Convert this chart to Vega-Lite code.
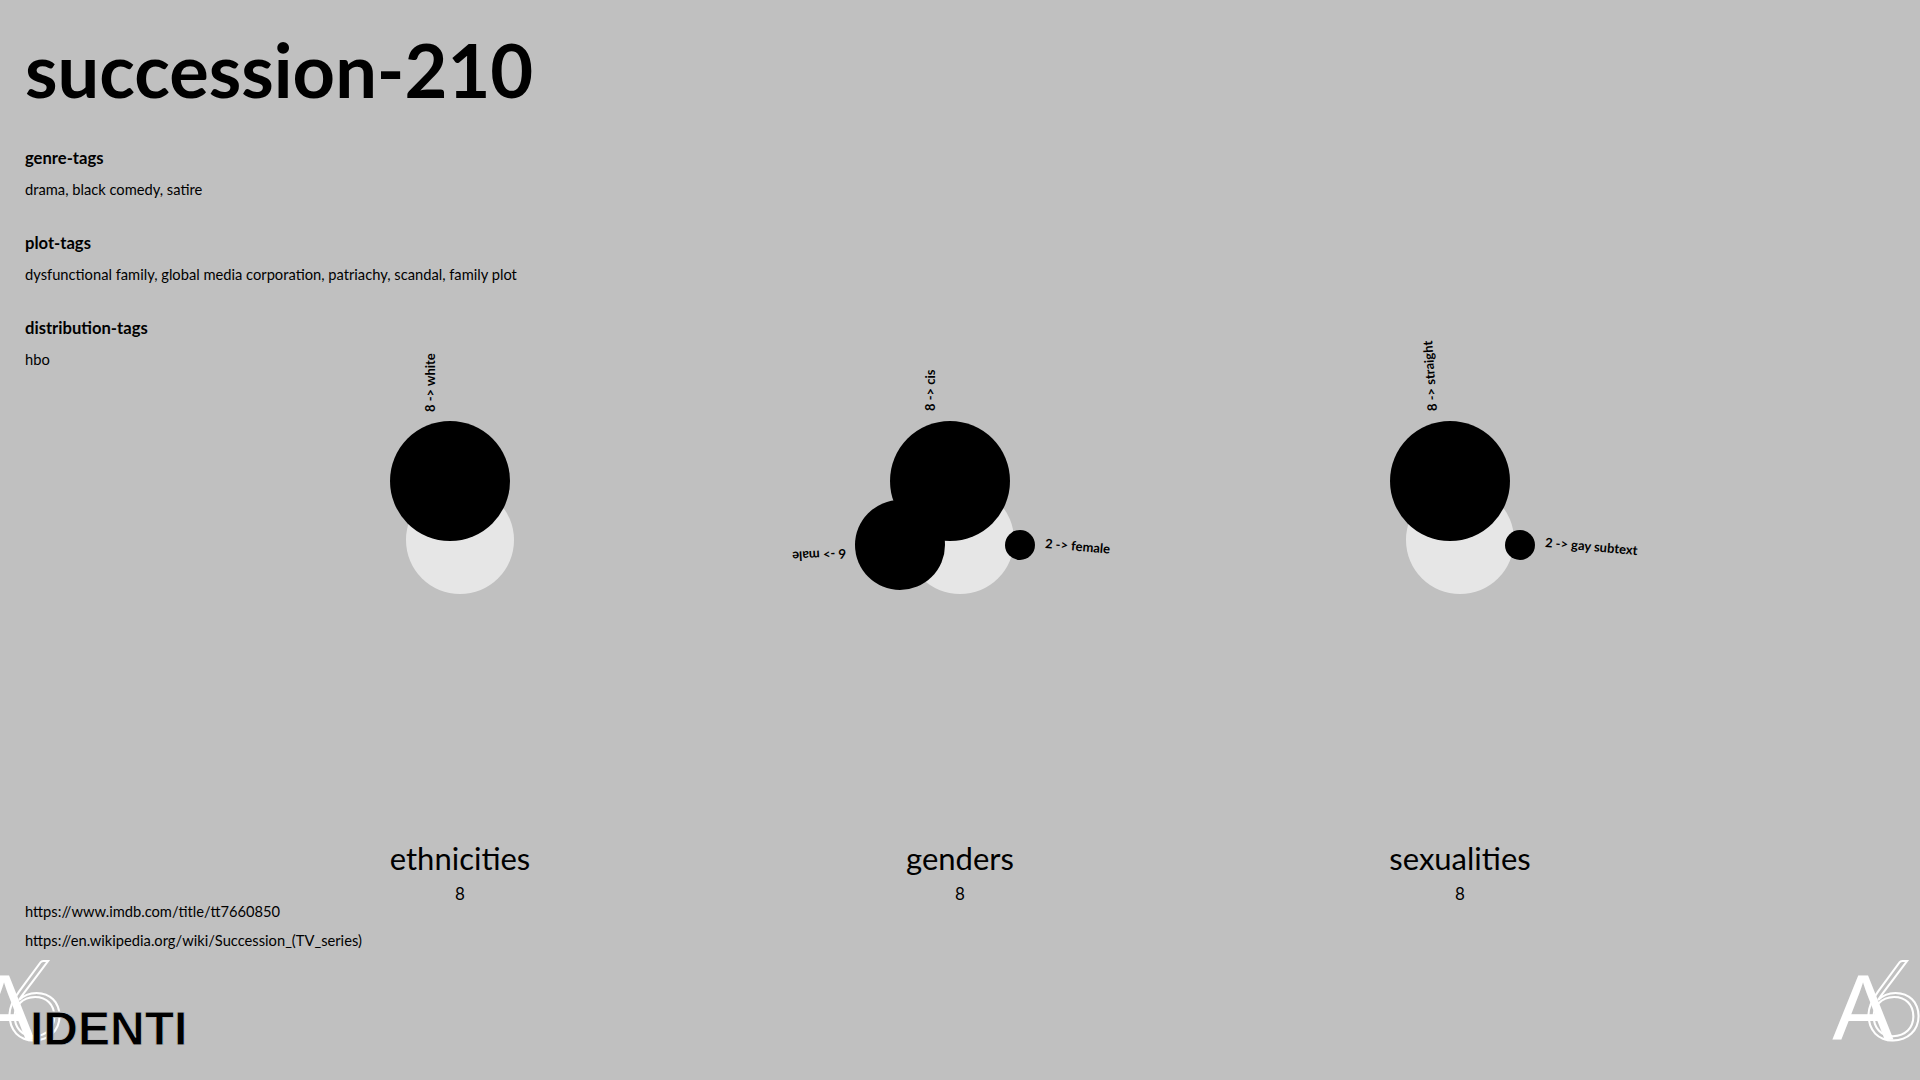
{
  "$schema": "https://vega.github.io/schema/vega-lite/v6.json",
  "width": 1920,
  "height": 1080,
  "autosize": {"type": "none"},
  "padding": 0,
  "background": "#c0c0c0",
  "config": {"view": {"stroke": null}, "font": "Lato"},
  "datasets": {
    "totals": [
      {"group": "ethnicities", "total": 8, "cx": 460, "cy": 540},
      {"group": "genders", "total": 8, "cx": 960, "cy": 540},
      {"group": "sexualities", "total": 8, "cx": 1460, "cy": 540}
    ],
    "categories": [
      {"group": "ethnicities", "category": "white", "count": 8, "label": "8 -> white", "cx": 450, "cy": 481, "lx": 431, "ly": 412, "angle": 270},
      {"group": "genders", "category": "cis", "count": 8, "label": "8 -> cis", "cx": 950, "cy": 481, "lx": 931, "ly": 411, "angle": 270},
      {"group": "genders", "category": "male", "count": 6, "label": "6 -> male", "cx": 900, "cy": 545, "lx": 846, "ly": 553, "angle": 177},
      {"group": "genders", "category": "female", "count": 2, "label": "2 -> female", "cx": 1020, "cy": 545, "lx": 1045, "ly": 544, "angle": 5},
      {"group": "sexualities", "category": "straight", "count": 8, "label": "8 -> straight", "cx": 1450, "cy": 481, "lx": 1433, "ly": 411, "angle": 266},
      {"group": "sexualities", "category": "gay subtext", "count": 2, "label": "2 -> gay subtext", "cx": 1520, "cy": 545, "lx": 1545, "ly": 543, "angle": 5}
    ],
    "texts": [
      {"role": "title", "text": "succession-210", "x": 25, "y": 98},
      {"role": "heading", "text": "genre-tags", "x": 25, "y": 164},
      {"role": "heading", "text": "plot-tags", "x": 25, "y": 249},
      {"role": "heading", "text": "distribution-tags", "x": 25, "y": 334},
      {"role": "body", "text": "drama, black comedy, satire", "x": 25, "y": 195},
      {"role": "body", "text": "dysfunctional family, global media corporation, patriachy, scandal, family plot", "x": 25, "y": 280},
      {"role": "body", "text": "hbo", "x": 25, "y": 365},
      {"role": "url", "text": "https://www.imdb.com/title/tt7660850", "x": 25, "y": 917},
      {"role": "url", "text": "https://en.wikipedia.org/wiki/Succession_(TV_series)", "x": 25, "y": 946},
      {"role": "group", "text": "ethnicities", "x": 460, "y": 870},
      {"role": "group", "text": "genders", "x": 960, "y": 870},
      {"role": "group", "text": "sexualities", "x": 1460, "y": 870},
      {"role": "count", "text": "8", "x": 460, "y": 900},
      {"role": "count", "text": "8", "x": 960, "y": 900},
      {"role": "count", "text": "8", "x": 1460, "y": 900},
      {"role": "logoA", "text": "A", "x": 1863, "y": 1040},
      {"role": "logoA", "text": "A", "x": 4, "y": 1040},
      {"role": "logo6", "text": "6", "x": 1893, "y": 1040},
      {"role": "logo6", "text": "6", "x": 34, "y": 1040},
      {"role": "identi", "text": "IDENTI", "x": 30, "y": 1045}
    ]
  },
  "layer": [
    {
      "data": {"name": "totals"},
      "mark": {"type": "circle", "opacity": 1, "color": "#e6e6e6"},
      "encoding": {
        "x": {"field": "cx", "type": "quantitative", "scale": {"domain": [0, 1920], "nice": false, "zero": false}, "axis": null},
        "y": {"field": "cy", "type": "quantitative", "scale": {"domain": [0, 1080], "nice": false, "zero": false, "reverse": true}, "axis": null},
        "size": {"field": "total", "type": "quantitative", "scale": {"type": "pow", "exponent": 2, "domain": [0, 8], "range": [0, 11664]}, "legend": null}
      }
    },
    {
      "data": {"name": "categories"},
      "layer": [
        {
          "mark": {"type": "circle", "opacity": 1, "color": "#000000"},
          "encoding": {
            "x": {"field": "cx", "type": "quantitative", "scale": {"domain": [0, 1920], "nice": false, "zero": false}, "axis": null},
            "y": {"field": "cy", "type": "quantitative", "scale": {"domain": [0, 1080], "nice": false, "zero": false, "reverse": true}, "axis": null},
            "size": {"field": "count", "type": "quantitative", "scale": {"type": "pow", "exponent": 2, "domain": [0, 8], "range": [0, 14400]}, "legend": null}
          }
        },
        {
          "mark": {"type": "text", "align": "left", "baseline": "middle", "fontSize": 13, "fontWeight": "bold", "color": "#000000"},
          "encoding": {
            "x": {"field": "lx", "type": "quantitative", "axis": null},
            "y": {"field": "ly", "type": "quantitative", "axis": null},
            "text": {"field": "label"},
            "angle": {"field": "angle", "type": "quantitative", "scale": null}
          }
        }
      ]
    },
    {
      "data": {"name": "texts"},
      "layer": [
        {
          "transform": [{"filter": "datum.role === 'title'"}],
          "mark": {"type": "text", "align": "left", "baseline": "alphabetic", "fontSize": 74, "fontWeight": "bold", "color": "#000000"},
          "encoding": {
            "x": {"field": "x", "type": "quantitative", "axis": null},
            "y": {"field": "y", "type": "quantitative", "axis": null},
            "text": {"field": "text"}
          }
        },
        {
          "transform": [{"filter": "datum.role === 'heading'"}],
          "mark": {"type": "text", "align": "left", "baseline": "alphabetic", "fontSize": 16.6, "fontWeight": "bold", "color": "#000000"},
          "encoding": {
            "x": {"field": "x", "type": "quantitative", "axis": null},
            "y": {"field": "y", "type": "quantitative", "axis": null},
            "text": {"field": "text"}
          }
        },
        {
          "transform": [{"filter": "datum.role === 'body'"}],
          "mark": {"type": "text", "align": "left", "baseline": "alphabetic", "fontSize": 14.7, "color": "#000000"},
          "encoding": {
            "x": {"field": "x", "type": "quantitative", "axis": null},
            "y": {"field": "y", "type": "quantitative", "axis": null},
            "text": {"field": "text"}
          }
        },
        {
          "transform": [{"filter": "datum.role === 'url'"}],
          "mark": {"type": "text", "align": "left", "baseline": "alphabetic", "fontSize": 14.7, "color": "#000000"},
          "encoding": {
            "x": {"field": "x", "type": "quantitative", "axis": null},
            "y": {"field": "y", "type": "quantitative", "axis": null},
            "text": {"field": "text"}
          }
        },
        {
          "transform": [{"filter": "datum.role === 'group'"}],
          "mark": {"type": "text", "align": "center", "baseline": "alphabetic", "fontSize": 31, "color": "#000000"},
          "encoding": {
            "x": {"field": "x", "type": "quantitative", "axis": null},
            "y": {"field": "y", "type": "quantitative", "axis": null},
            "text": {"field": "text"}
          }
        },
        {
          "transform": [{"filter": "datum.role === 'count'"}],
          "mark": {"type": "text", "align": "center", "baseline": "alphabetic", "fontSize": 17, "color": "#000000"},
          "encoding": {
            "x": {"field": "x", "type": "quantitative", "axis": null},
            "y": {"field": "y", "type": "quantitative", "axis": null},
            "text": {"field": "text"}
          }
        },
        {
          "transform": [{"filter": "datum.role === 'logoA'"}],
          "mark": {"type": "text", "align": "center", "baseline": "alphabetic", "fontSize": 92, "font": "Liberation Sans", "color": "#ffffff"},
          "encoding": {
            "x": {"field": "x", "type": "quantitative", "axis": null},
            "y": {"field": "y", "type": "quantitative", "axis": null},
            "text": {"field": "text"}
          }
        },
        {
          "transform": [{"filter": "datum.role === 'logo6'"}],
          "mark": {"type": "text", "align": "center", "baseline": "alphabetic", "fontSize": 110, "fontWeight": 300, "fill": null, "stroke": "#ffffff", "strokeWidth": 2},
          "encoding": {
            "x": {"field": "x", "type": "quantitative", "axis": null},
            "y": {"field": "y", "type": "quantitative", "axis": null},
            "text": {"field": "text"}
          }
        },
        {
          "transform": [{"filter": "datum.role === 'identi'"}],
          "mark": {"type": "text", "align": "left", "baseline": "alphabetic", "fontSize": 48, "font": "Liberation Sans", "fontWeight": "bold", "color": "#000000", "stroke": "#c0c0c0", "strokeWidth": 0.8},
          "encoding": {
            "x": {"field": "x", "type": "quantitative", "axis": null},
            "y": {"field": "y", "type": "quantitative", "axis": null},
            "text": {"field": "text"}
          }
        }
      ]
    }
  ],
  "resolve": {"scale": {"size": "independent"}}
}
